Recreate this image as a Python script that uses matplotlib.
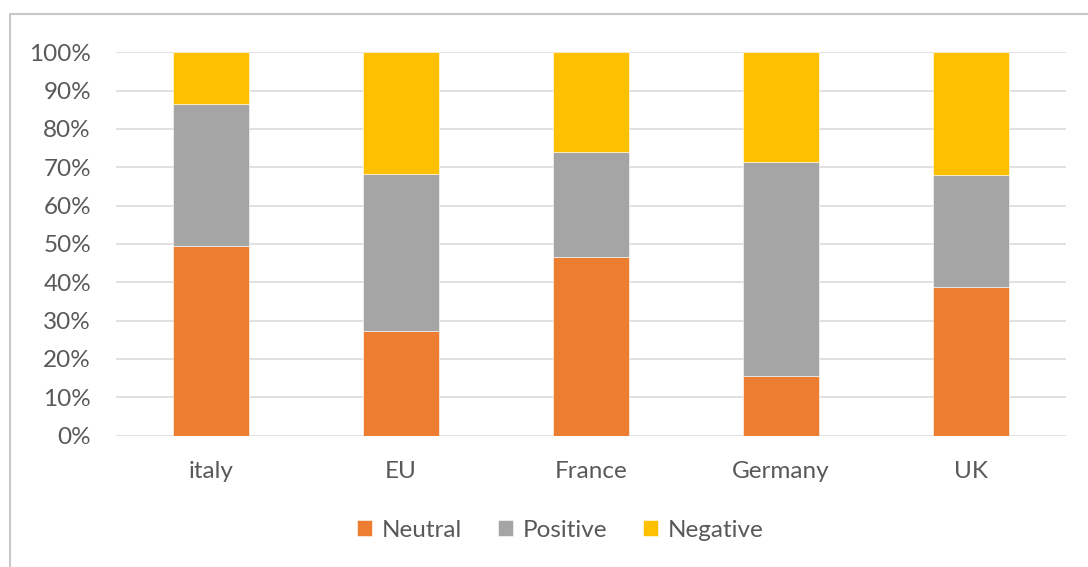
import numpy as np
import matplotlib
matplotlib.use("Agg")
from matplotlib import pyplot as plt
from matplotlib.patches import Rectangle
from matplotlib.ticker import PercentFormatter

# share of each sentiment per country (percent)
countries = ["italy", "EU", "France", "Germany", "UK"]
neutral = [49.5, 27.2, 46.5, 15.6, 38.8]
positive = [37.0, 41.0, 27.4, 55.7, 29.3]
negative = [13.5, 31.8, 26.1, 28.7, 31.9]

colors = {"Neutral": "#ED7D31", "Positive": "#A5A5A5", "Negative": "#FFC000"}
text_gray = "#595959"

plt.rcParams['font.family'] = ['Lato', 'DejaVu Sans']

fig = plt.figure(figsize=(10.88, 5.67), dpi=100)
ax = fig.add_axes([0.1066, 0.2319, 0.8732, 0.6759])

x = np.arange(len(countries))
width = 0.4
bottom = np.zeros(len(countries))
for name, vals in [("Neutral", neutral), ("Positive", positive), ("Negative", negative)]:
    ax.bar(x, vals, width, bottom=bottom, color=colors[name], label=name,
           edgecolor="white", linewidth=0.4, zorder=3)
    bottom += np.array(vals)

ax.set_xlim(-0.5, len(countries) - 0.5)
ax.set_ylim(0, 100)
ax.set_yticks(np.arange(0, 101, 10))
ax.yaxis.set_major_formatter(PercentFormatter(decimals=0))
ax.set_xticks(x)
ax.set_xticklabels(countries)
ax.grid(axis="y", color="#D9D9D9", linewidth=1.1, zorder=0)
for s in ax.spines.values():
    s.set_visible(False)
ax.tick_params(axis="both", length=0, labelsize=17.5, labelcolor=text_gray)
ax.tick_params(axis="y", pad=18)
ax.tick_params(axis="x", pad=18)

leg = fig.legend(loc="center", bbox_to_anchor=(0.515, 0.065), ncol=3, frameon=False,
                 fontsize=17.5, handlelength=0.6, handleheight=0.6,
                 handletextpad=0.4, columnspacing=1.5)
for t in leg.get_texts():
    t.set_color(text_gray)

# outer chart frame
fig.patches.append(Rectangle((10 / 1088, -0.1), 1.2, (567 - 14) / 567 + 0.1,
                             transform=fig.transFigure, fill=False,
                             edgecolor="#C8C8C8", linewidth=1.5))

fig.savefig("out.png", dpi=100)
